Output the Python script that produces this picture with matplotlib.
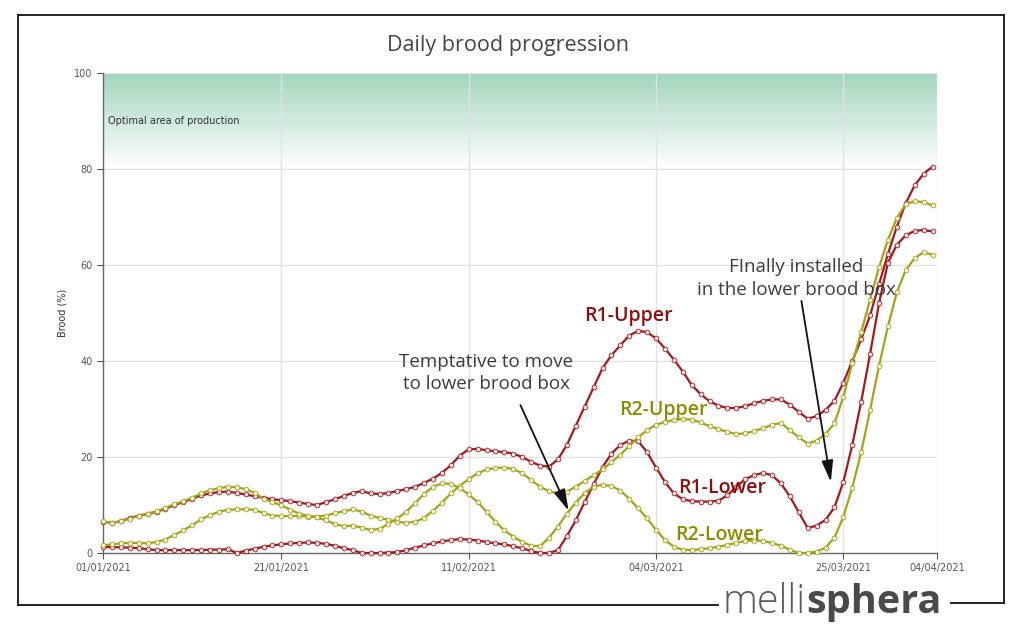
import numpy as np
import matplotlib
matplotlib.use("Agg")
import matplotlib.pyplot as plt
from matplotlib.colors import LinearSegmentedColormap
from matplotlib.lines import Line2D

# ---------------- data ----------------
days = list(range(94))  # daily points from 01/01/2021

r1_upper = [6.5, 6.3, 6.6, 7.3, 7.8, 8.1, 8.6, 9.2, 10.0, 10.6,
            11.3, 12.0, 12.4, 12.7, 12.8, 12.5, 12.2, 11.8, 11.5, 11.2,
            11.0, 10.8, 10.5, 10.2, 10.0, 10.6, 11.2, 11.9, 12.5, 12.9,
            12.4, 12.3, 12.5, 12.9, 13.3, 13.8, 14.6, 15.5, 16.7, 18.3,
            20.3, 21.6, 21.7, 21.4, 21.2, 21.0, 20.7, 20.0, 19.0, 18.2,
            18.0, 19.5, 22.5, 26.5, 30.5, 34.5, 38.5, 41.2, 43.3, 45.3,
            46.3, 46.0, 44.7, 42.6, 40.3, 37.8, 35.0, 33.1, 31.6, 30.7,
            30.2, 30.2, 30.6, 31.2, 31.7, 32.0, 32.0, 30.9, 29.4, 28.0,
            28.5, 29.8, 31.7, 35.5, 40.0, 44.5, 49.5, 56.0, 62.3, 68.0,
            72.9, 76.6, 79.0, 80.5]

r1_lower = [1.3, 1.2, 1.2, 1.1, 1.0, 0.8, 0.6, 0.6, 0.6, 0.6,
            0.6, 0.6, 0.7, 0.7, 0.8, 0.0, 0.5, 0.9, 1.3, 1.6,
            1.8, 2.0, 2.1, 2.2, 2.1, 1.9, 1.5, 1.0, 0.6, 0.0,
            0.0, 0.0, 0.1, 0.2, 0.6, 1.1, 1.6, 2.0, 2.4, 2.7,
            2.9, 2.8, 2.6, 2.3, 2.0, 1.8, 1.4, 1.0, 0.4, 0.0,
            0.0, 0.6, 3.5, 6.8, 10.6, 14.3, 17.9, 20.7, 22.5, 23.4,
            23.3, 21.0, 17.8, 14.8, 12.4, 11.2, 10.8, 10.7, 10.7, 10.9,
            12.0, 13.8, 15.4, 16.2, 16.7, 16.2, 14.5, 11.8, 8.5, 5.2,
            5.7, 6.9, 9.5, 14.8, 22.5, 31.5, 41.5, 52.0, 60.5, 64.2,
            66.2, 67.1, 67.3, 67.0]

r2_upper = [1.6, 1.8, 2.0, 2.1, 2.1, 2.0, 2.3, 2.8, 3.8, 4.7,
            5.8, 7.0, 7.9, 8.6, 9.0, 9.1, 9.1, 9.0, 8.3, 7.8,
            7.7, 7.7, 7.7, 7.6, 7.6, 7.8, 8.3, 8.7, 9.1, 8.6,
            7.8, 7.3, 6.9, 6.5, 6.3, 6.5, 7.3, 8.8, 10.5, 12.4,
            14.0, 15.4, 16.6, 17.4, 17.7, 17.8, 17.5, 16.6, 15.2, 13.8,
            12.9, 12.4, 12.8, 13.8, 15.0, 16.2, 17.4, 18.9, 20.5, 22.3,
            24.1, 25.6, 26.7, 27.3, 27.7, 27.9, 27.8, 27.2, 26.4, 25.8,
            25.2, 24.8, 24.9, 25.4, 26.0, 26.7, 27.1, 25.6, 24.1, 22.8,
            23.4, 24.8, 27.0, 32.5, 39.5, 46.0, 52.8, 59.5, 65.3, 69.8,
            72.7, 73.3, 73.1, 72.4]

r2_lower = [6.6, 6.3, 6.6, 7.1, 7.8, 8.2, 8.7, 9.4, 10.2, 10.8,
            11.5, 12.4, 13.1, 13.5, 13.8, 13.7, 13.3, 12.5, 11.3, 10.6,
            9.9, 9.0, 8.2, 7.7, 7.4, 6.8, 6.0, 5.6, 5.7, 5.3,
            4.8, 5.0, 6.1, 7.2, 8.6, 10.4, 12.3, 13.8, 14.5, 14.4,
            13.5, 12.2, 10.6, 8.6, 6.5, 4.7, 3.4, 2.3, 1.5, 1.4,
            3.2, 5.5, 8.2, 10.5, 12.5, 13.8, 14.2, 14.0, 13.0, 11.3,
            9.3, 7.2, 4.8, 2.7, 1.3, 0.7, 0.6, 0.8, 1.0, 1.3,
            1.7, 2.1, 2.5, 2.6, 2.5, 2.1, 1.5, 0.7, 0.0, 0.0,
            0.3, 1.1, 3.2, 7.5, 13.6, 21.0, 29.8, 39.0, 47.2, 54.3,
            59.0, 61.4, 62.7, 62.1]

tick_days = [0, 20, 41, 62, 83, 93.5]
tick_labels = ["01/01/2021", "21/01/2021", "11/02/2021", "04/03/2021",
               "25/03/2021", "04/04/2021"]
y_ticks = [0, 20, 40, 60, 80, 100]

# ---------------- styling ----------------
RED = "#a3191f"
RED_FILL = "#f7e3e3"
OLIVE = "#a3a31c"
OLIVE_FILL = "#f4f4d6"
RED_TXT = "#8e0d10"
OLIVE_TXT = "#8c8c00"
TXT = "#3c3c3c"

fig = plt.figure(figsize=(10.24, 6.26), dpi=100)
fig.patch.set_facecolor("white")

ax = fig.add_axes([103/1024, 1-553/626, (937-103)/1024, (553-73)/626])
x_max = 93.5
ax.set_xlim(0, x_max)
ax.set_ylim(0, 100)

# gradient "optimal" band
cmap = LinearSegmentedColormap.from_list("band", ["#ffffff", "#a3d5bc"])
grad = np.linspace(0, 1, 256).reshape(-1, 1)
ax.imshow(grad, extent=[0, x_max, 80, 100], origin="lower", aspect="auto",
          cmap=cmap, zorder=0, interpolation="bilinear")
ax.text(0.6, 90, "Optimal area of production", fontsize=7, color="#333333",
        va="center", ha="left", family="DejaVu Sans", zorder=1)

# grid
for yv in y_ticks[1:]:
    ax.axhline(yv, color="#e2e2e2", lw=1, zorder=0.5)
for xv in tick_days[1:]:
    ax.axvline(xv, color="#e2e2e2", lw=1, zorder=0.5)

series = [(r1_upper, RED, RED_FILL), (r1_lower, RED, RED_FILL),
          (r2_upper, OLIVE, OLIVE_FILL), (r2_lower, OLIVE, OLIVE_FILL)]
for vals, col, fill in series:
    ax.plot(days, vals, color=col, lw=1.6, marker="o", markersize=3.4,
            markerfacecolor=fill, markeredgecolor=col, markeredgewidth=0.6,
            zorder=3, clip_on=False)

ax.set_xticks(tick_days)
ax.set_xticklabels(tick_labels)
ax.set_yticks(y_ticks)
ax.tick_params(axis="both", labelsize=7, colors="#555555", length=4, width=0.8)
ax.tick_params(axis="x", pad=3)
for s in ["top", "right"]:
    ax.spines[s].set_visible(False)
for s in ["left", "bottom"]:
    ax.spines[s].set_color("#666666")
    ax.spines[s].set_linewidth(1)
ax.set_ylabel("Brood (%)", fontsize=7, color="#333333", labelpad=5)
ax.set_facecolor("none")

# title
fig.text(508/1024, 1-45/626, "Daily brood progression", ha="center",
         va="center", fontsize=15.5, color="#444444", family="Open Sans")

# series labels
lab_font = dict(family="Open Sans", fontsize=14, fontweight="semibold")
ax.text(58.9, 49.4, "R1-Upper", color=RED_TXT, ha="center", va="center", **lab_font)
ax.text(62.8, 29.8, "R2-Upper", color=OLIVE_TXT, ha="center", va="center", **lab_font)
ax.text(69.4, 13.5, "R1-Lower", color=RED_TXT, ha="center", va="center", **lab_font)
ax.text(69.1, 3.8, "R2-Lower", color=OLIVE_TXT, ha="center", va="center", **lab_font)

# annotations
ann_font = dict(family="Open Sans", fontsize=13.5, color=TXT)
ax.text(43.0, 37.5, "Temptative to move\nto lower brood box", ha="center",
        va="center", linespacing=1.35, **ann_font)
ax.annotate("", xy=(52.2, 8.8), xytext=(46.8, 30.8),
            arrowprops=dict(arrowstyle="-|>,head_length=1.3,head_width=0.35",
                            color="#111111", lw=1.3, shrinkA=0, shrinkB=0),
            zorder=5)
ax.text(77.7, 57.2, "FInally installed\nin the lower brood box", ha="center",
        va="center", linespacing=1.35, **ann_font)
ax.annotate("", xy=(81.6, 14.8), xytext=(78.3, 52.5),
            arrowprops=dict(arrowstyle="-|>,head_length=1.3,head_width=0.35",
                            color="#111111", lw=1.3, shrinkA=0, shrinkB=0),
            zorder=5)

# outer frame broken by the logo
frame = dict(color="#111111", lw=1.3, transform=fig.transFigure)
def fx(p):
    return p / 1024
def fy(p):
    return 1 - p / 626
fig.add_artist(Line2D([fx(18), fx(18)], [fy(605), fy(15)], **frame))
fig.add_artist(Line2D([fx(18), fx(1004)], [fy(15), fy(15)], **frame))
fig.add_artist(Line2D([fx(1004), fx(1004)], [fy(15), fy(603)], **frame))
fig.add_artist(Line2D([fx(18), fx(718)], [fy(605), fy(605)], **frame))
fig.add_artist(Line2D([fx(951), fx(1004)], [fy(603), fy(603)], **frame))

# logo
t1 = fig.text(fx(722), fy(613), "melli", fontsize=28.5, fontweight="light",
              color="#5a5a5a", family="Open Sans", ha="left", va="baseline")
fig.canvas.draw()
bb = t1.get_window_extent(renderer=fig.canvas.get_renderer())
fig.text(bb.x1 / fig.bbox.width + 0.001, fy(613), "sphera", fontsize=28.5,
         fontweight="bold", color="#4a4a4a", family="Open Sans",
         ha="left", va="baseline")

fig.savefig("out.png", dpi=100)
